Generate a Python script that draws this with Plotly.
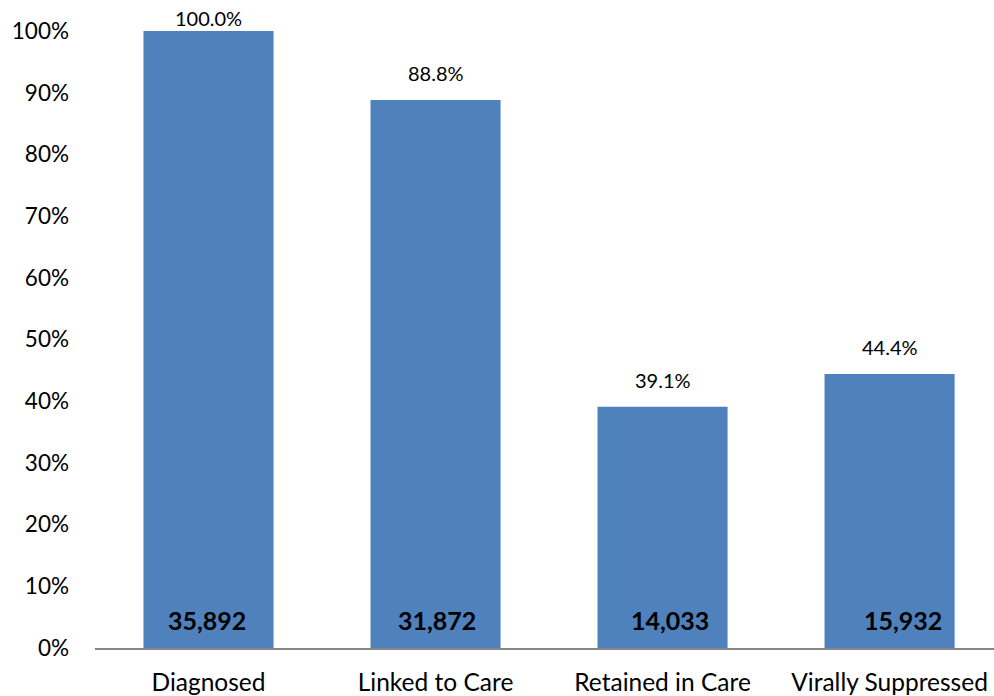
import plotly.graph_objects as go

categories = ["Diagnosed", "Linked to Care", "Retained in Care", "Virally Suppressed"]
percent_values = [100.0, 88.8, 39.1, 44.4]
count_labels = ["35,892", "31,872", "14,033", "15,932"]
count_xshift = [-2, 1, 7, 13]
tick_vals = [0, 10, 20, 30, 40, 50, 60, 70, 80, 90, 100]
tick_text = [f"{v}%" for v in tick_vals]

FONT = "Lato, Carlito, Calibri, sans-serif"
PX_PER_UNIT = 6.17

fig = go.Figure(go.Bar(
    x=categories, y=percent_values,
    marker=dict(color="#4F81BD", line=dict(width=0)),
    hoverinfo="skip",
))

annotations = []
for c, v in zip(categories, percent_values):
    target = min(v + 4.4, 102.1)
    ypos = min(target, 100)
    annotations.append(dict(
        x=c, y=ypos, xref="x", yref="y",
        yshift=(target - ypos) * PX_PER_UNIT,
        text=f"{v:.1f}%", showarrow=False,
        font=dict(family=FONT, size=20, color="#000000"),
        yanchor="middle",
    ))
for c, lab, xs in zip(categories, count_labels, count_xshift):
    annotations.append(dict(
        x=c, y=4.5, xref="x", yref="y", xshift=xs,
        text=f"<b>{lab}</b>", showarrow=False,
        font=dict(family=FONT, size=25, color="#000000"),
        yanchor="middle",
    ))

fig.update_layout(
    width=994, height=696,
    margin=dict(l=95, r=0, t=31, b=48, autoexpand=False),
    paper_bgcolor="white", plot_bgcolor="white",
    bargap=0.427,
    showlegend=False,
    font=dict(family=FONT, size=22, color="#000000"),
    annotations=annotations,
    xaxis=dict(
        range=[-0.5, 3.46],
        showline=True, linecolor="#868686", linewidth=1.5,
        showgrid=False, ticks="", ticklabelstandoff=12,
        tickfont=dict(family=FONT, size=24.5, color="#000000"),
    ),
    yaxis=dict(
        range=[0, 100], tickvals=tick_vals, ticktext=tick_text,
        showgrid=False, zeroline=False, showline=False, ticks="",
        ticklabelstandoff=25,
        tickfont=dict(family=FONT, size=22.5, color="#000000"),
    ),
)

fig.write_html(
    "out.html",
    config={"displayModeBar": False, "staticPlot": True},
    post_script="document.body.style.margin='0';document.body.style.overflow='hidden';",
)
